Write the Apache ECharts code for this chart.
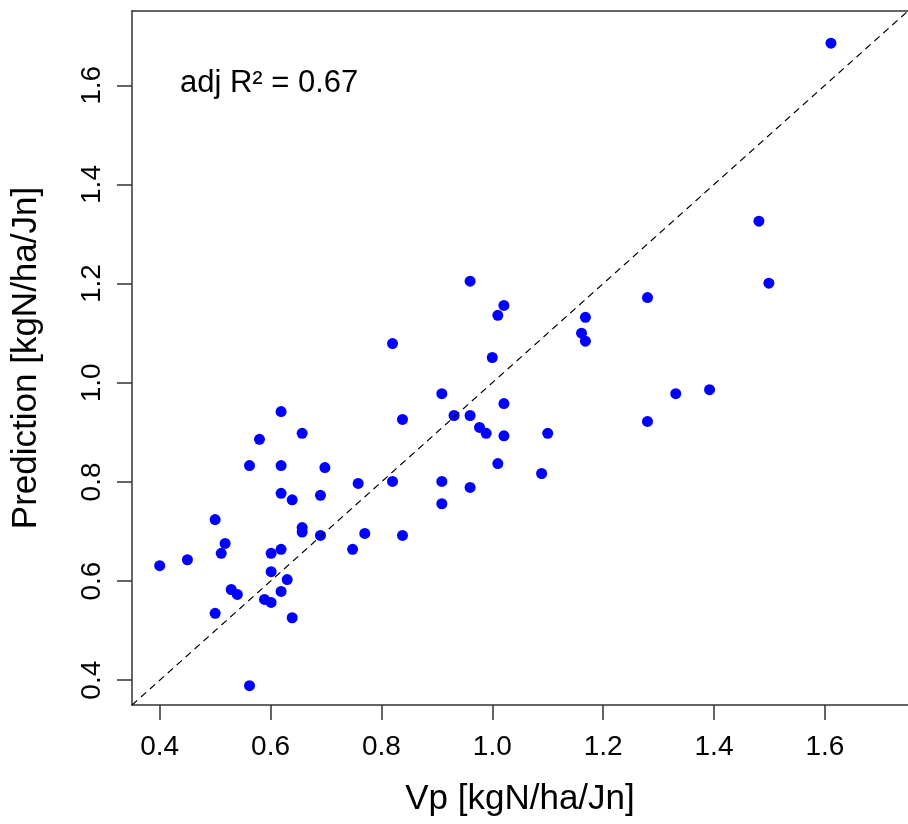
<!DOCTYPE html>
<html>
<head>
<meta charset="utf-8">
<script src="https://cdn.jsdelivr.net/npm/echarts@6/dist/echarts.min.js"></script>
<style>html,body{margin:0;padding:0;background:#fff;}#c{width:908px;height:824px;}</style>
</head>
<body>
<div id="c"></div>
<script>
// Observed values (x) and predictions (y)
const observed = [0.820,1.000,0.909,0.619,1.021,0.838,0.931,0.960,0.977,0.989,1.021,0.657,0.580,0.562,0.619,0.698,1.010,0.758,0.820,0.909,0.960,0.619,0.690,0.639,0.909,0.500,0.657,0.657,0.690,0.770,0.838,0.518,0.511,0.748,0.601,0.619,0.400,0.450,0.601,0.630,0.529,0.540,0.619,0.589,0.601,0.500,0.639,0.562,0.960,1.021,1.010,1.611,1.481,1.499,1.280,1.168,1.161,1.168,1.331,1.392,1.280,1.100,1.089];
const predicted = [1.079,1.051,0.978,0.942,0.958,0.926,0.934,0.934,0.910,0.898,0.893,0.898,0.886,0.833,0.833,0.829,0.837,0.797,0.801,0.801,0.789,0.777,0.773,0.764,0.756,0.724,0.708,0.699,0.692,0.696,0.692,0.676,0.656,0.664,0.656,0.664,0.631,0.643,0.619,0.603,0.583,0.573,0.579,0.563,0.557,0.535,0.526,0.389,1.205,1.156,1.136,1.685,1.326,1.201,1.172,1.132,1.100,1.084,0.978,0.986,0.922,0.898,0.817];
const tickValues = [0.4,0.6,0.8,1.0,1.2,1.4,1.6];
const identityLine = [[0.35,0.35],[1.75,1.75]];
const axisRange = [0.35, 1.75];
const annotation = 'adj R\u00b2 = 0.67';
const xTitle = 'Vp [kgN/ha/Jn]';
const yTitle = 'Prediction [kgN/ha/Jn]';

const FONT = "'Liberation Sans', Arial, sans-serif";
const FS_TICK = 28;
const FS_NOTE = 31;
const FS_TITLE = 35;
const chart = echarts.init(document.getElementById('c'), null, {renderer:'canvas'});
const pts = observed.map((v,i)=>[v, predicted[i]]);
const LINE = {color:'#333', width:1.5};
const axisCommon = {
  type:'value', min:axisRange[0], max:axisRange[1],
  splitLine:{show:false},
  axisLine:{show:true, onZero:false, lineStyle:LINE},
  axisTick:{show:true, inside:false, length:15, customValues:tickValues, lineStyle:LINE},
  nameTextStyle:{fontFamily:FONT, fontSize:FS_TITLE, color:'#000'},
  nameLocation:'middle'
};
chart.setOption({
  animation:false,
  backgroundColor:'#fff',
  grid:{left:132, top:11, width:780, height:694, show:false},
  xAxis:[
    Object.assign({}, axisCommon, {
      name:xTitle, nameGap:77,
      axisLabel:{customValues:tickValues, margin:28, fontFamily:FONT, fontSize:FS_TICK, color:'#000', formatter:v=>v.toFixed(1)}
    }),
    {type:'value', position:'top', min:axisRange[0], max:axisRange[1], splitLine:{show:false},
     axisLine:{show:true, onZero:false, lineStyle:LINE}, axisTick:{show:false}, axisLabel:{show:false}}
  ],
  yAxis:Object.assign({}, axisCommon, {
    name:yTitle, nameGap:88,
    axisLabel:{customValues:tickValues, margin:26, rotate:90, fontFamily:FONT, fontSize:FS_TICK, color:'#000', formatter:v=>v.toFixed(1)}
  }),
  graphic:[{type:'text', left:180, top:68, style:{text:annotation, font:FS_NOTE+"px "+FONT, fill:'#000'}}],
  series:[
    {type:'line', data:identityLine, symbol:'none', silent:true,
     lineStyle:{color:'#000', width:1.2, type:[7,5]}},
    {type:'scatter', data:pts, symbol:'circle', symbolSize:11,
     itemStyle:{color:'#0000ff', opacity:1}}
  ]
});
</script>
</body>
</html>
